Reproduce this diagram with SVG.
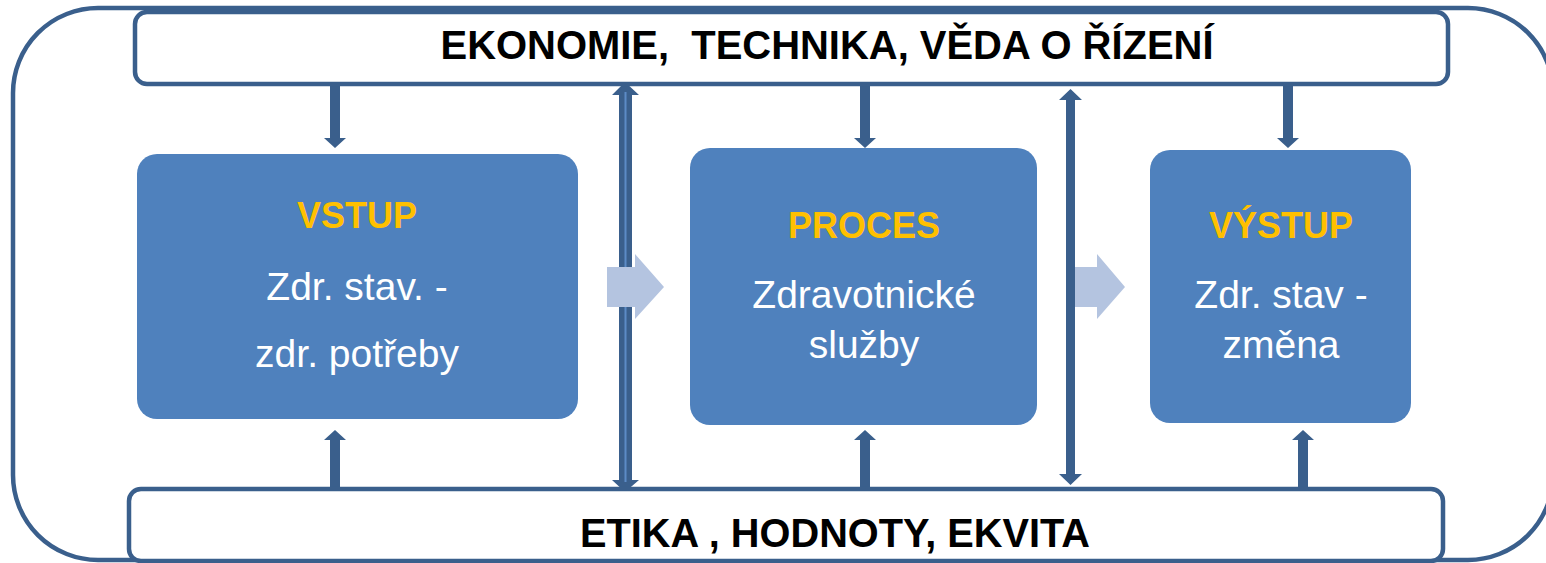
<svg xmlns="http://www.w3.org/2000/svg" width="1546" height="563" viewBox="0 0 1546 563">
<defs>
<style>
.frame{fill:none;stroke:#3A5F8C;stroke-width:4.5}
.band{fill:#FFFFFF;stroke:#3A5F8C;stroke-width:4.5}
.box{fill:#4F81BD}
.band-text{font-family:"Liberation Sans",Arial,sans-serif;font-weight:bold;font-size:40px;fill:#000000;text-anchor:middle;white-space:pre}
.title{font-family:"Liberation Sans",Arial,sans-serif;font-weight:bold;font-size:36px;fill:#FFC000;text-anchor:middle}
.body{font-family:"Liberation Sans",Arial,sans-serif;font-size:39px;fill:#FFFFFF;text-anchor:middle}
.arrow{fill:#3A5F8C}
.flow{fill:#B4C4E0}
.hl{stroke:#5C8BC6;stroke-width:2}
</style>
</defs>
<rect class="frame" x="13" y="8" width="1540" height="552" rx="85" ry="85"/>
<g id="connectors">
<polygon class="arrow" points="330,86 340,86 340,138 346,138 335,148 324,138 330,138"/>
<polygon class="arrow" points="860,86 870,86 870,138 876,138 865,148 854,138 860,138"/>
<polygon class="arrow" points="1283,86 1293,86 1293,138 1299,138 1288,148 1277,138 1283,138"/>
<polygon class="arrow" points="330,490 340,490 340,440 346,440 335,430 324,440 330,440"/>
<polygon class="arrow" points="860,490 870,490 870,440 876,440 865,430 854,440 860,440"/>
<polygon class="arrow" points="1298,490 1308,490 1308,440 1314,440 1303,430 1292,440 1298,440"/>
<polygon class="arrow" points="625,82 639,95 632,95 632,480 639,480 625,492 612,480 619,480 619,95 612,95"/>
<line class="hl" x1="625.5" y1="92" x2="625.5" y2="482"/>
<polygon class="arrow" points="1070.5,89 1082,100 1075,100 1075,474 1082,474 1070.5,485 1059,474 1066,474 1066,100 1059,100"/>
<polygon class="flow" points="607,267 635,267 635,254 664,287 635,319 635,307 607,307"/>
<polygon class="flow" points="1075,267 1097,267 1097,254 1125,287 1097,319 1097,307 1075,307"/>
</g>
<g id="top-band">
<rect class="band" x="135" y="12" width="1313" height="72" rx="12" ry="12"/>
<text class="band-text" x="827" y="59" textLength="773" lengthAdjust="spacingAndGlyphs" xml:space="preserve">EKONOMIE,  TECHNIKA, VĚDA O ŘÍZENÍ</text>
</g>
<g id="bottom-band">
<rect class="band" x="129" y="489" width="1314" height="72" rx="12" ry="12"/>
<text class="band-text" x="835" y="547" textLength="510" lengthAdjust="spacingAndGlyphs">ETIKA , HODNOTY, EKVITA</text>
</g>
<g id="vstup">
<rect class="box" x="137" y="154" width="441" height="265" rx="20" ry="20"/>
<text class="title" x="357" y="228">VSTUP</text>
<text class="body" x="357" y="300">Zdr. stav. -</text>
<text class="body" x="357" y="367">zdr. potřeby</text>
</g>
<g id="proces">
<rect class="box" x="690" y="148" width="347" height="277" rx="20" ry="20"/>
<text class="title" x="864" y="238">PROCES</text>
<text class="body" x="864" y="308">Zdravotnické</text>
<text class="body" x="864" y="358">služby</text>
</g>
<g id="vystup">
<rect class="box" x="1150" y="150" width="261" height="273" rx="20" ry="20"/>
<text class="title" x="1281" y="238">VÝSTUP</text>
<text class="body" x="1281" y="308">Zdr. stav -</text>
<text class="body" x="1281" y="358">změna</text>
</g>
</svg>
